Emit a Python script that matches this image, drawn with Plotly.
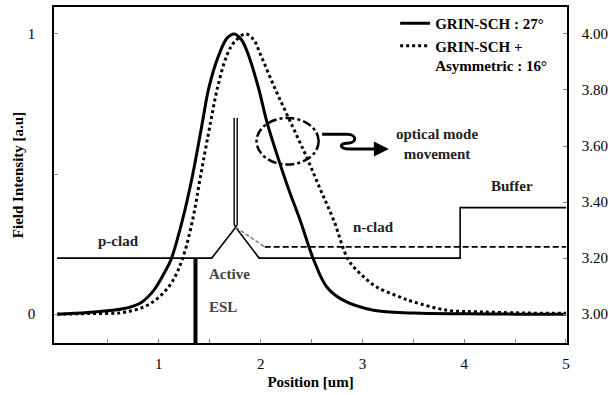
import plotly.graph_objects as go

# Optical field profiles (normalised intensity vs. position in um)
pos_grin = [0.0, 0.3, 0.66, 0.82, 0.95, 1.05, 1.12, 1.23, 1.33, 1.43, 1.49, 1.59,
            1.67, 1.74, 1.81, 1.88, 1.98, 2.06, 2.16, 2.27, 2.39, 2.52, 2.65,
            2.81, 3.11, 3.5, 4.0, 4.5, 5.0]
field_grin = [0.0, 0.006, 0.02, 0.04, 0.085, 0.145, 0.195, 0.333, 0.493, 0.688,
              0.806, 0.925, 0.985, 1.0, 0.98, 0.925, 0.806, 0.688, 0.57, 0.451,
              0.333, 0.195, 0.097, 0.05, 0.014, 0.004, 0.001, 0.0, 0.0]

pos_asym = [0.0, 0.3, 0.63, 0.855, 1.0, 1.13, 1.23, 1.33, 1.41, 1.51, 1.575, 1.67,
            1.74, 1.85, 1.93, 2.0, 2.14, 2.29, 2.44, 2.58, 2.72, 2.86, 2.98,
            3.14, 3.37, 3.5, 3.83, 4.16, 4.6, 5.0]
field_asym = [0.0, 0.002, 0.005, 0.026, 0.06, 0.115, 0.195, 0.333, 0.493, 0.688,
              0.806, 0.925, 0.97, 1.0, 0.98, 0.925, 0.806, 0.688, 0.57, 0.451,
              0.333, 0.195, 0.144, 0.097, 0.061, 0.044, 0.014, 0.008, 0.004, 0.003]

# Refractive index profile (right axis)
idx_pos = [0.0, 1.52, 1.755, 1.985, 3.96, 3.96, 5.0]
idx_val = [3.20, 3.20, 3.31, 3.20, 3.20, 3.38, 3.38]
qw_pos = [1.74, 1.74, 1.755, 1.77, 1.77]
qw_val = [3.70, 3.32, 3.31, 3.32, 3.70]
asym_ramp_pos = [1.755, 2.04]
asym_ramp_val = [3.31, 3.24]
asym_clad_pos = [2.04, 5.0]
asym_clad_val = [3.24, 3.24]
esl_pos = [1.36, 1.36]
esl_val = [3.20, 2.80]

x_ticks = [0.5, 1, 1.5, 2, 2.5, 3, 3.5, 4, 4.5, 5]
x_ticktext = ["", "1", "", "2", "", "3", "", "4", "", "5"]
y_ticks = [0, 0.5, 1]
y_ticktext = ["0", "", "1"]
n_ticks = [3.0, 3.2, 3.4, 3.6, 3.8, 4.0]

FONT = "Liberation Serif"
fig = go.Figure()

fig.add_trace(go.Scatter(x=pos_grin, y=field_grin, mode="lines", line_shape="spline",
                         line=dict(color="black", width=3),
                         name="<b>GRIN-SCH : 27°</b>"))
fig.add_trace(go.Scatter(x=pos_asym, y=field_asym, mode="lines", line_shape="spline",
                         line=dict(color="black", width=3, dash="3px,3px"),
                         name="<b>GRIN-SCH +<br>Asymmetric : 16°</b>"))

prof = dict(mode="lines", yaxis="y2", showlegend=False, hoverinfo="skip")
fig.add_trace(go.Scatter(x=idx_pos, y=idx_val, line=dict(color="black", width=1.6), **prof))
fig.add_trace(go.Scatter(x=qw_pos, y=qw_val, line=dict(color="black", width=1.4), **prof))
fig.add_trace(go.Scatter(x=asym_ramp_pos, y=asym_ramp_val,
                         line=dict(color="#808080", width=1.6, dash="4px,2px"), **prof))
fig.add_trace(go.Scatter(x=asym_clad_pos, y=asym_clad_val,
                         line=dict(color="black", width=1.6, dash="6px,3px"), **prof))
fig.add_trace(go.Scatter(x=esl_pos, y=esl_val, line=dict(color="black", width=4), **prof))

lab = dict(showarrow=False, font=dict(family=FONT, size=15, color="#222"), xref="x", yref="y")
fig.add_annotation(x=0.60, y=0.262, text="<b>p-clad</b>", **lab)
fig.add_annotation(x=3.11, y=0.312, text="<b>n-clad</b>", **lab)
fig.add_annotation(x=4.47, y=0.457, text="<b>Buffer</b>", **lab)
fig.add_annotation(x=1.69, y=0.142, text="<b>Active</b>",
                   **{**lab, "font": dict(family=FONT, size=15, color="#444")})
fig.add_annotation(x=1.63, y=0.026, text="<b>ESL</b>",
                   **{**lab, "font": dict(family=FONT, size=15, color="#444")})
fig.add_annotation(x=3.73, y=0.606, text="<b>optical mode<br>movement</b>", **lab)

# Dash-dot ring around the mode shift and squiggly arrow
fig.add_shape(type="circle", xref="x", yref="y", x0=1.96, x1=2.57, y0=0.534, y1=0.70,
              line=dict(color="black", width=2.5, dash="dashdot"))
fig.add_shape(type="path", xref="x", yref="y",
              path="M 2.604 0.642 L 2.85 0.642 C 2.95 0.642 2.95 0.61 2.85 0.61 "
                   "C 2.77 0.61 2.77 0.589 2.88 0.589 L 3.18 0.589",
              line=dict(color="black", width=3))
fig.add_annotation(x=3.26, y=0.589, ax=3.15, ay=0.589, axref="x", ayref="y",
                   xref="x", yref="y", text="", showarrow=True, arrowhead=2,
                   arrowsize=1, arrowwidth=3, arrowcolor="black")

axis_font = dict(family=FONT, size=15, color="black")
fig.update_layout(
    width=613, height=395,
    margin=dict(l=54, r=44, t=5, b=52),
    paper_bgcolor="white", plot_bgcolor="white",
    font=dict(family=FONT, size=15, color="black"),
    showlegend=True,
    legend=dict(x=0.665, y=1.0, xanchor="left", yanchor="top", bgcolor="rgba(0,0,0,0)",
                font=dict(family=FONT, size=15, color="black"), valign="top",
                tracegroupgap=4),
    xaxis=dict(range=[-0.03, 5.01], tickvals=x_ticks, ticktext=x_ticktext,
               ticks="inside", ticklen=4, tickcolor="#888", showgrid=False, zeroline=False,
               showline=True, linecolor="black", linewidth=1.5, mirror=True,
               tickfont=axis_font, ticklabelstandoff=6,
               title=dict(text="<b>Position [um]</b>", font=axis_font, standoff=6)),
    yaxis=dict(range=[-0.103, 1.096], tickvals=y_ticks, ticktext=y_ticktext,
               ticks="inside", ticklen=4, tickcolor="#888", showgrid=False, zeroline=False,
               showline=True, linecolor="black", linewidth=1.5,
               tickfont=axis_font, ticklabelstandoff=14,
               title=dict(text="<b>Field Intensity [a.u]</b>", font=axis_font, standoff=1)),
    yaxis2=dict(range=[2.897, 4.096], overlaying="y", side="right", tickvals=n_ticks,
                tickformat=".2f", ticks="inside", ticklen=4, tickcolor="#888",
                showgrid=False, zeroline=False, showline=True, linecolor="black",
                linewidth=1.5, tickfont=axis_font, ticklabelstandoff=10),
)

fig.write_html("out.html")
